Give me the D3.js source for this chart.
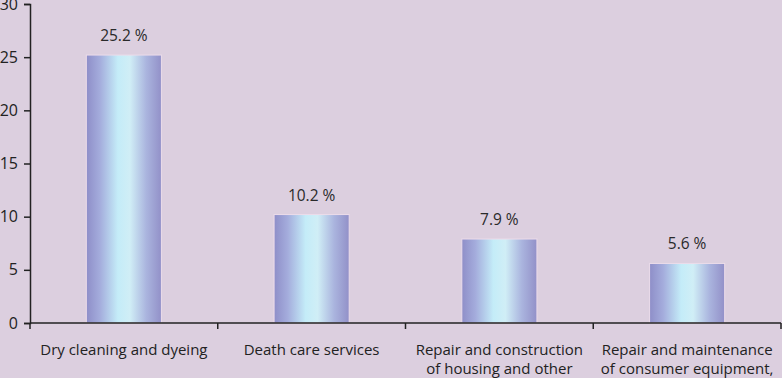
<!DOCTYPE html>
<html>
<head>
<meta charset="utf-8">
<script src="https://cdn.jsdelivr.net/npm/d3@7"></script>
<style>
  html, body { margin: 0; padding: 0; background: #dccfdf; overflow: hidden; }
  svg { display: block; font-family: "Open Sans", "Noto Sans", sans-serif; }
</style>
</head>
<body>
<div id="chart"></div>
<script>
// Data
const categories = [
  ['Dry cleaning and dyeing'],
  ['Death care services'],
  ['Repair and construction', 'of housing and other'],
  ['Repair and maintenance', 'of consumer equipment,']
];
const values = [25.2, 10.2, 7.9, 5.6];
const yTicks = [0, 5, 10, 15, 20, 25, 30];

const totalW = 782, totalH = 378;
const margin = { top: 4, right: 1, bottom: 55, left: 30 };
const width = totalW - margin.left - margin.right;
const height = totalH - margin.top - margin.bottom;

const svg = d3.select('#chart').append('svg')
  .attr('width', totalW).attr('height', totalH);

svg.append('rect').attr('width', totalW).attr('height', totalH).attr('fill', '#dccfdf');

// bar gradient: purple edges, light cyan centre
const grad = svg.append('defs').append('linearGradient')
  .attr('id', 'barGrad').attr('x1', '0%').attr('x2', '100%').attr('y1', '0%').attr('y2', '0%');
[[0, '#8e8ec8'], [0.18, '#a4acdc'], [0.42, '#c4ecf8'], [0.58, '#d0eef6'], [0.8, '#aab4de'], [1, '#9290c8']]
  .forEach(([o, c]) => grad.append('stop').attr('offset', o).attr('stop-color', c));

const g = svg.append('g').attr('transform', `translate(${margin.left},${margin.top})`);

const idx = d3.range(values.length);
const x = d3.scaleBand().domain(idx).range([0, width]).paddingInner(0.6).paddingOuter(0.3);
const xCat = d3.scaleBand().domain(idx).range([0, width]).padding(0);
const y = d3.scaleLinear().domain([0, 30]).range([height, 0]);

// Bars
g.selectAll('rect.bar').data(values).join('rect')
  .attr('class', 'bar')
  .attr('x', (d, i) => x(i)).attr('width', x.bandwidth())
  .attr('y', d => y(d)).attr('height', d => height - y(d))
  .attr('fill', 'url(#barGrad)')
  .attr('stroke', '#ecdcea').attr('stroke-width', 1);

// Value labels
g.selectAll('text.val').data(values).join('text')
  .attr('class', 'val')
  .attr('x', (d, i) => x(i) + x.bandwidth() / 2)
  .attr('y', d => y(d) - 14)
  .attr('text-anchor', 'middle').attr('font-size', '15.5px').attr('fill', '#2a2a2a')
  .text(d => d.toFixed(1) + ' %');

// Y axis
const yAxis = g.append('g')
  .call(d3.axisLeft(y).tickValues(yTicks).tickSize(6).tickPadding(6));
yAxis.select('.domain').attr('stroke', '#222').attr('stroke-width', 1.5);
yAxis.selectAll('line').attr('stroke', '#222').attr('stroke-width', 1.5);
yAxis.selectAll('text').attr('font-size', '16px').attr('fill', '#222')
  .attr('font-family', '"Open Sans", "Noto Sans", sans-serif');

// X axis
const xAxis = g.append('g').attr('transform', `translate(0,${height})`);
xAxis.append('line').attr('x1', 0).attr('x2', width)
  .attr('stroke', '#222').attr('stroke-width', 1.5);
xAxis.selectAll('line.tick').data(idx.concat([values.length])).join('line')
  .attr('class', 'tick')
  .attr('x1', i => i < values.length ? xCat(i) : xCat.range()[1])
  .attr('x2', i => i < values.length ? xCat(i) : xCat.range()[1])
  .attr('y1', 0).attr('y2', 6)
  .attr('stroke', '#222').attr('stroke-width', 1.5);

const lab = xAxis.selectAll('text.cat').data(categories).join('text')
  .attr('class', 'cat')
  .attr('x', (d, i) => xCat(i) + xCat.bandwidth() / 2)
  .attr('y', 32)
  .attr('text-anchor', 'middle').attr('font-size', '15px').attr('fill', '#222');
lab.selectAll('tspan').data(d => d).join('tspan')
  .attr('x', function () { return this.parentNode.getAttribute('x'); })
  .attr('dy', (d, i) => i === 0 ? 0 : 19)
  .text(d => d);
</script>
</body>
</html>
